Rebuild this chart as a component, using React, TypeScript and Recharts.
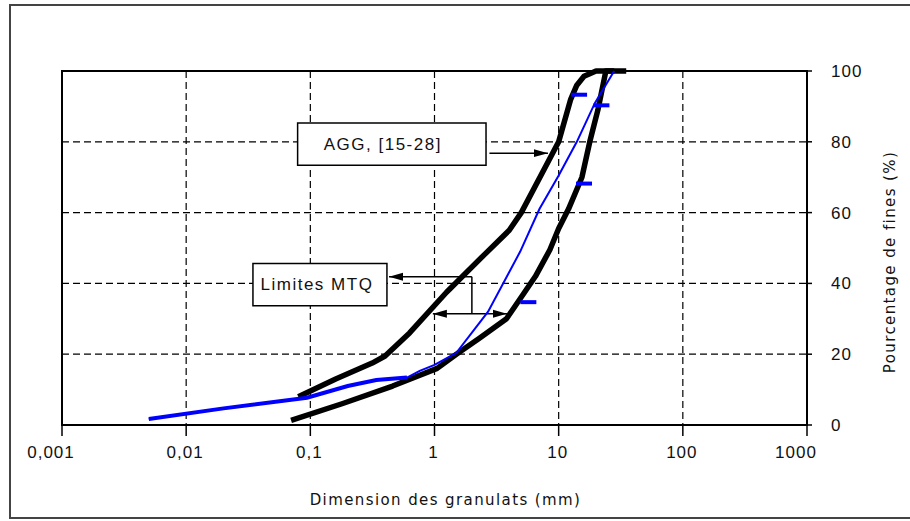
import React from 'react';
import {
  ComposedChart, Line, Scatter, XAxis, YAxis, CartesianGrid,
  ReferenceArea, ReferenceLine,
} from 'recharts';

// grain size (mm) / percent passing
const sizeTicks = [0.001, 0.01, 0.1, 1, 10, 100, 1000];
const sizeLabels = ['0,001', '0,01', '0,1', '1', '10', '100', '1000'];
const passTicks = [0, 20, 40, 60, 80, 100];

// MTQ limits - fine side
const upperSizes = [0.08, 0.16, 0.315, 0.4, 0.63, 1.25, 2.5, 4, 5, 10, 12.5, 14, 16, 20, 28];
const upperPassing = [8, 13, 17.5, 19.5, 26, 37.5, 48, 55, 60, 80, 92, 96, 98.5, 100, 100];

// MTQ limits - coarse side
const lowerSizes = [0.07, 0.18, 0.46, 1.05, 1.5, 2.3, 3.8, 5.2, 6.5, 8.5, 10, 12, 15.4, 17.8, 20.7, 24, 35];
const lowerPassing = [1.3, 6, 11, 16, 20, 24.5, 30, 37, 42, 49.5, 55.5, 61, 70, 80, 89, 100, 100];

// AGG [15-28] curve
const aggSizes = [0.005, 0.02, 0.094, 0.2, 0.34, 0.6, 0.76, 1, 1.5, 2.7, 4.9, 7, 10, 14, 19.6, 28];
const aggPassing = [1.7, 4.7, 7.7, 11, 12.7, 13.4, 15.3, 17, 20.4, 32, 49, 61, 70.5, 80, 91, 100];

// short blue marks
const markSizes = [14.6, 22.1, 16, 5.7];
const markPassing = [93.3, 90.3, 68.2, 34.7];

const zip = (xs: number[], ys: number[]) => xs.map((x, i) => ({ x, y: ys[i] }));

const upper = zip(upperSizes, upperPassing);
const lower = zip(lowerSizes, lowerPassing);
const agg = zip(aggSizes, aggPassing);
const aggFine = agg.slice(0, 6);
const marks = zip(markSizes, markPassing);

const tickFont = { fontSize: 17, fill: '#111', fontFamily: 'Liberation Sans, Arial, sans-serif', letterSpacing: 1 };
const titleFont = { fontSize: 15, fill: '#111', fontFamily: 'DejaVu Sans, sans-serif', letterSpacing: 1.4 };
const boxFont = { fontSize: 17, fill: '#111', fontFamily: 'Liberation Sans, Arial, sans-serif', letterSpacing: 1.5 };

const BLUE = '#0000ff';

const boxLabel = (text: string, shift: number) => (props: any) => {
  const vb = props.viewBox;
  return (
    <text x={vb.x + vb.width / 2 + shift} y={vb.y + vb.height / 2} textAnchor="middle"
      dominantBaseline="central" {...boxFont}>{text}</text>
  );
};

// Excel pulls the end labels inward a bit
function SizeTick(props: any) {
  const { x, y, payload, index } = props;
  const edge = index === 0 || index === sizeTicks.length - 1;
  return (
    <text x={x + (edge ? -11 : -1)} y={y} dy="0.71em" textAnchor="middle" {...tickFont}>
      {sizeLabels[sizeTicks.indexOf(payload.value)] ?? ''}
    </text>
  );
}

export default function App() {
  return (
    <div style={{ position: 'absolute', left: 0, top: 0, width: 910, height: 521, background: '#fff', overflow: 'hidden' }}>
      <svg width={0} height={0} style={{ position: 'absolute' }}>
        <defs>
          <marker id="arrow" viewBox="0 0 14 10" refX="14" refY="5" markerWidth="14" markerHeight="10"
            markerUnits="userSpaceOnUse" orient="auto-start-reverse">
            <path d="M0,1 L14,5 L0,9 z" fill="#000" />
          </marker>
        </defs>
      </svg>
      <div style={{ position: 'absolute', left: 9, top: 4, width: 910, height: 511, border: '2px solid #444' }} />
      <ComposedChart width={910} height={521} margin={{ top: 71, right: 13, bottom: 6, left: 62 }}
        style={{ position: 'absolute', left: 0, top: 0 }}>
        <CartesianGrid stroke="#000" strokeWidth={1.2} strokeDasharray="7 4" />
        <XAxis dataKey="x" type="number" scale="log" domain={[0.001, 1000]} allowDataOverflow
          ticks={sizeTicks} interval={0} height={90} axisLine={false} tickSize={11} tickMargin={10}
          tickLine={{ stroke: '#000', strokeWidth: 1.5 }} tick={<SizeTick />}
          label={{
            content: (p: any) => (
              <text x={p.viewBox.x + p.viewBox.width / 2 + 11} y={p.viewBox.y + 75} textAnchor="middle"
                dominantBaseline="central" {...titleFont}>Dimension des granulats (mm)</text>
            ),
          }} />
        <YAxis type="number" orientation="right" domain={[0, 100]} ticks={passTicks} interval={0}
          width={90} axisLine={false} tickSize={5} tickMargin={19}
          tickLine={{ stroke: '#000', strokeWidth: 1.5 }} tick={tickFont}
          label={{
            content: (p: any) => {
              const cx = p.viewBox.x + 83;
              const cy = p.viewBox.y + p.viewBox.height / 2 + 14;
              return (
                <text x={cx} y={cy} textAnchor="middle" dominantBaseline="central"
                  transform={`rotate(-90, ${cx}, ${cy})`} {...titleFont}>Pourcentage de fines (%)</text>
              );
            },
          }} />

        <ReferenceArea x1={0.001} x2={1000} y1={0} y2={100} fill="none" stroke="#000" strokeWidth={2} />

        <ReferenceArea x1={0.079} x2={2.6} y1={73.4} y2={85.3} fill="#fff" fillOpacity={1}
          stroke="#000" strokeWidth={1.5} label={{ content: boxLabel('AGG, [15-28]', -9) }} />
        <ReferenceArea x1={0.0345} x2={0.414} y1={33.7} y2={45.6} fill="#fff" fillOpacity={1}
          stroke="#000" strokeWidth={1.5} label={{ content: boxLabel('Limites MTQ', -3) }} />

        <ReferenceLine segment={[{ x: 2.77, y: 76.8 }, { x: 8.2, y: 76.8 }]} stroke="#000" strokeWidth={1.5}
          markerEnd="url(#arrow)" />
        <ReferenceLine segment={[{ x: 0.43, y: 41.9 }, { x: 2.0, y: 41.9 }]} stroke="#000" strokeWidth={1.5}
          markerStart="url(#arrow)" />
        <ReferenceLine segment={[{ x: 2.0, y: 41.9 }, { x: 2.0, y: 31.4 }]} stroke="#000" strokeWidth={1.5} />
        <ReferenceLine segment={[{ x: 0.97, y: 31.4 }, { x: 3.83, y: 31.4 }]} stroke="#000" strokeWidth={1.5}
          markerStart="url(#arrow)" markerEnd="url(#arrow)" />

        <Line data={upper} dataKey="y" type="linear" stroke="#000" strokeWidth={5.5} dot={false}
          strokeLinejoin="round" isAnimationActive={false} />
        <Line data={lower} dataKey="y" type="linear" stroke="#000" strokeWidth={5.5} dot={false}
          strokeLinejoin="round" isAnimationActive={false} />
        <Line data={agg} dataKey="y" type="linear" stroke={BLUE} strokeWidth={2} dot={false}
          isAnimationActive={false} />
        <Line data={aggFine} dataKey="y" type="linear" stroke={BLUE} strokeWidth={4} dot={false}
          isAnimationActive={false} />
        <Scatter data={marks} dataKey="y" isAnimationActive={false}
          shape={(p: any) => <rect x={p.cx - 8} y={p.cy - 2} width={16} height={4} fill={BLUE} />} />
      </ComposedChart>
    </div>
  );
}
